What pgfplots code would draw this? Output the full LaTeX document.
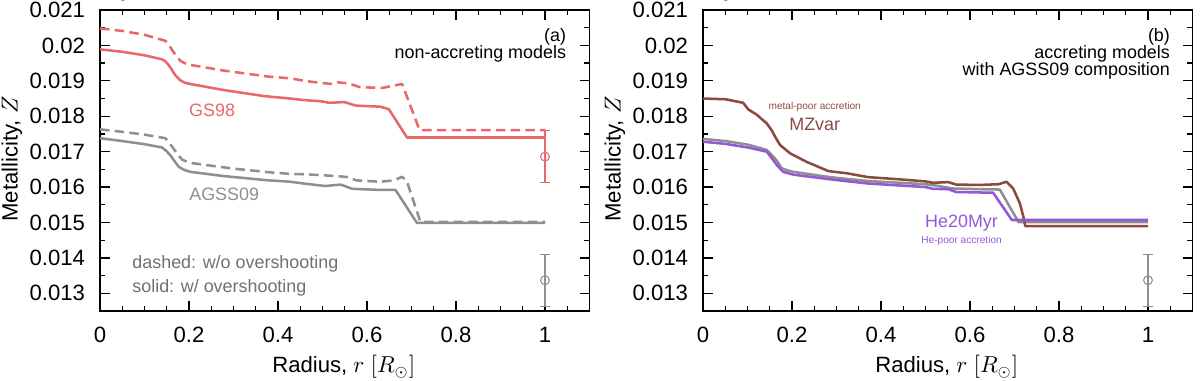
\documentclass[border=0pt]{standalone}
\usepackage{pgfplots}
\pgfplotsset{compat=1.18}
\usepackage{fontspec}
\setmainfont{Liberation Sans}

\definecolor{gsred}{HTML}{E8686A}
\definecolor{aggray}{HTML}{8F8F8F}
\definecolor{txtgray}{HTML}{707070}
\definecolor{mzbrown}{HTML}{8C4A3E}
\definecolor{hepurple}{HTML}{9656D8}

\pgfplotsset{
  zpanel/.style={
    scale only axis, width=8.158cm, height=5.017cm,
    xmin=0, xmax=1.1, ymin=0.0125, ymax=0.021,
    xtick={0,0.2,0.4,0.6,0.8,1}, xticklabels={0,0.2,0.4,0.6,0.8,1},
    minor xtick={0.05,0.1,0.15,0.25,0.3,0.35,0.45,0.5,0.55,0.65,0.7,0.75,0.85,0.9,0.95,1.05},
    ytick={0.013,0.014,0.015,0.016,0.017,0.018,0.019,0.02,0.021},
    yticklabels={0.013,0.014,0.015,0.016,0.017,0.018,0.019,0.02,0.021},
    minor ytick={0.0135,0.0145,0.0155,0.0165,0.0175,0.0185,0.0195,0.0205},
    tick align=inside, major tick length=4.7pt, minor tick length=2.4pt,
    every tick/.style={black, line width=0.6pt},
    axis line style={line width=0.7pt},
    tick label style={font=\fontsize{10.5}{12}\selectfont},
    xticklabel style={yshift=-4.3pt},
    yticklabel style={xshift=-3.6pt},
    label style={font=\fontsize{10.5}{12}\selectfont},
    xlabel={Radius, $r\ [R_\odot]$},
    ylabel={Metallicity, $Z$},
    xlabel style={at={(axis description cs:0.498,-0.186)}, anchor=center},
    ylabel style={at={(axis description cs:-0.18,0.505)}, anchor=center},
    clip=false,
  },
  zline/.style={line width=1.2pt, line join=round},
  zdash/.style={line width=1.2pt, line join=round, dash pattern=on 4.5pt off 2.5pt},
  zerr/.style={mark=o, mark size=2.1pt, line width=0.5pt,
    error bars/.cd, y dir=both, y explicit,
    error bar style={line width=0.5pt},
    error mark options={rotate=90, mark size=2.6pt, line width=0.5pt}},
}

\begin{document}
\begin{tikzpicture}
\path[use as bounding box] (0,0) rectangle (20cm,6.3333cm);

% (a) non-accreting models
\begin{axis}[zpanel, at={(1.667cm,1.15cm)}, anchor=south west]
\addplot[gsred, zdash] coordinates {(0,0.02048) (0.05,0.02041) (0.1,0.0203) (0.147,0.02013) (0.155,0.02001) (0.162,0.01987) (0.171,0.01971) (0.18,0.01957) (0.19,0.01950) (0.203,0.01945) (0.278,0.01929) (0.378,0.01912) (0.428,0.01907) (0.464,0.01899) (0.506,0.01893) (0.524,0.01891) (0.532,0.01896) (0.558,0.01893) (0.584,0.01882) (0.635,0.0188) (0.661,0.01887) (0.679,0.01891) (0.718,0.01761) (1,0.01761)};
\addplot[gsred, zline] coordinates {(0,0.01989) (0.05,0.01982) (0.1,0.01972) (0.139,0.01961) (0.147,0.01955) (0.154,0.01945) (0.162,0.0193) (0.169,0.01916) (0.18,0.01902) (0.19,0.01895) (0.203,0.01891) (0.278,0.01874) (0.368,0.01857) (0.428,0.0185) (0.455,0.01846) (0.498,0.01842) (0.515,0.01838) (0.549,0.0184) (0.575,0.0183) (0.63,0.01827) (0.649,0.0182) (0.69,0.0174) (1,0.0174)};
\addplot[aggray, zdash] coordinates {(0,0.01763) (0.05,0.01756) (0.1,0.01748) (0.147,0.01738) (0.156,0.01724) (0.165,0.01709) (0.175,0.01692) (0.184,0.01678) (0.196,0.01671) (0.21,0.01667) (0.300,0.01652) (0.378,0.01642) (0.428,0.01637) (0.464,0.01636) (0.532,0.01631) (0.558,0.01628) (0.575,0.01619) (0.63,0.01615) (0.661,0.01619) (0.679,0.01629) (0.69,0.01615) (0.72,0.01502) (1,0.01502)};
\addplot[aggray, zline] coordinates {(0,0.01738) (0.05,0.0173) (0.1,0.01721) (0.139,0.01712) (0.149,0.01702) (0.158,0.0169) (0.168,0.01672) (0.177,0.01657) (0.19,0.01648) (0.203,0.01643) (0.278,0.01631) (0.378,0.01619) (0.428,0.01615) (0.464,0.01609) (0.506,0.01603) (0.541,0.01607) (0.567,0.01595) (0.63,0.01592) (0.664,0.01592) (0.712,0.01499) (1,0.01499)};
\addplot[gsred, zerr] coordinates {(1,0.01686) +- (0,0.00073)};
\addplot[aggray, zerr] coordinates {(1,0.01337) +- (0,0.00073)};
\node[anchor=base east, font=\fontsize{8.5}{10}\selectfont] at (axis cs:1.064,0.0201) {(a)};
\node[anchor=base east, font=\fontsize{8.5}{10}\selectfont] at (axis cs:1.064,0.01962) {non-accreting models};
\node[gsred, font=\fontsize{8.5}{10}\selectfont] at (axis cs:0.252,0.01816) {GS98};
\node[aggray, font=\fontsize{8.5}{10}\selectfont] at (axis cs:0.279,0.01579) {AGSS09};
\node[txtgray, anchor=west, font=\fontsize{8.5}{10}\selectfont] at (axis cs:0.056,0.01382) {dashed: w/o overshooting};
\node[txtgray, anchor=west, font=\fontsize{8.5}{10}\selectfont] at (axis cs:0.056,0.01316) {solid: w/ overshooting};
\end{axis}

% (b) accreting models
\begin{axis}[zpanel, at={(11.717cm,1.15cm)}, anchor=south west]
\addplot[aggray, zline] coordinates {(0,0.01736) (0.05,0.0173) (0.1,0.0172) (0.143,0.01705) (0.155,0.0169) (0.165,0.01676) (0.177,0.01653) (0.19,0.01647) (0.203,0.01643) (0.285,0.01628) (0.371,0.01617) (0.5,0.01608) (0.525,0.01604) (0.56,0.01596) (0.622,0.01594) (0.667,0.01593) (0.709,0.01501) (1,0.01501)};
\addplot[mzbrown, zline] coordinates {(0,0.0185) (0.05,0.01848) (0.09,0.01838) (0.102,0.01819) (0.12,0.01805) (0.143,0.0178) (0.154,0.01761) (0.163,0.0174) (0.173,0.01719) (0.196,0.01695) (0.233,0.01671) (0.282,0.01645) (0.323,0.01639) (0.371,0.01628) (0.44,0.01622) (0.5,0.01616) (0.517,0.01612) (0.551,0.01614) (0.569,0.01607) (0.622,0.01606) (0.664,0.01608) (0.682,0.01615) (0.697,0.01596) (0.712,0.01554) (0.72,0.01516) (0.724,0.0149) (1,0.0149)};
\addplot[hepurple, zline] coordinates {(0,0.01728) (0.05,0.01722) (0.1,0.01712) (0.143,0.017) (0.155,0.01681) (0.166,0.01662) (0.18,0.01643) (0.203,0.01635) (0.285,0.01622) (0.371,0.0161) (0.5,0.016) (0.517,0.01595) (0.551,0.01594) (0.569,0.01586) (0.652,0.01584) (0.694,0.01507) (1,0.01507)};
\addplot[aggray, zerr] coordinates {(1,0.01337) +- (0,0.00073)};
\node[anchor=base east, font=\fontsize{8.5}{10}\selectfont] at (axis cs:1.066,0.0201) {(b)};
\node[anchor=base east, font=\fontsize{8.5}{10}\selectfont] at (axis cs:1.066,0.01962) {accreting models};
\node[anchor=base east, font=\fontsize{8.5}{10}\selectfont] at (axis cs:1.066,0.01914) {with AGSS09 composition};
\node[mzbrown, font=\fontsize{4.8}{6}\selectfont] at (axis cs:0.251,0.01827) {metal-poor accretion};
\node[mzbrown, font=\fontsize{8.5}{10}\selectfont] at (axis cs:0.251,0.01777) {MZvar};
\node[hepurple, font=\fontsize{8.5}{10}\selectfont] at (axis cs:0.581,0.01498) {He20Myr};
\node[hepurple, font=\fontsize{4.8}{6}\selectfont] at (axis cs:0.581,0.01448) {He-poor accretion};
\end{axis}
\end{tikzpicture}
\end{document}
